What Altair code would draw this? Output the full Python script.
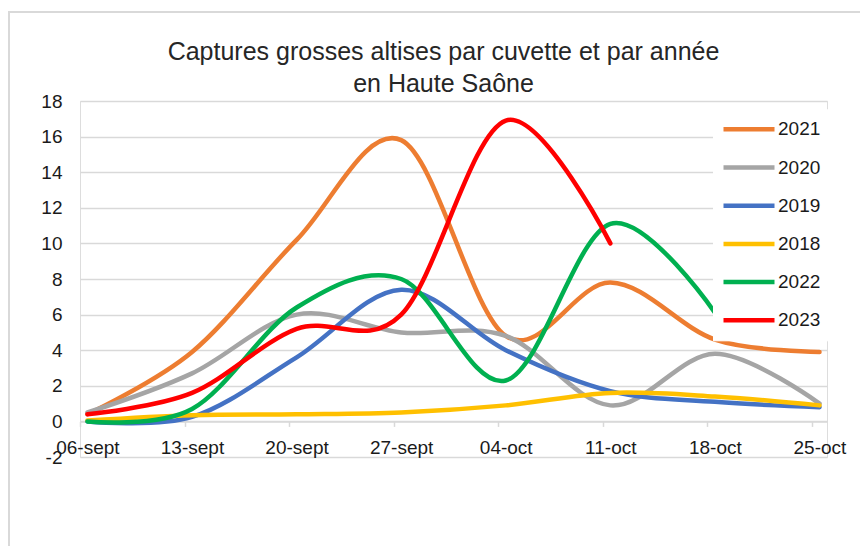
import json
import altair as alt
import pandas as pd

# --- data ---
dates = ["06-sept", "13-sept", "20-sept", "27-sept", "04-oct", "11-oct", "18-oct", "25-oct"]
days = [0, 7, 14, 21, 28, 35, 42, 49]          # days since 6 September
years = ["2021", "2020", "2019", "2018", "2022", "2023"]
colors = ["#ED7D31", "#A5A5A5", "#4472C4", "#FFC000", "#00B050", "#FF0000"]

v2021 = [0.4, 3.9, 10.2, 15.8, 4.8, 7.8, 4.6, 3.9]
v2020 = [0.5, 2.7, 6.0, 5.0, 4.8, 0.9, 3.8, 1.0]
v2019 = [0.0, 0.25, 3.6, 7.4, 4.0, 1.7, 1.1, 0.8]
v2018 = [0.05, 0.35, 0.4, 0.5, 0.9, 1.6, 1.4, 0.9]
v2022 = [0.0, 0.7, 6.4, 8.0, 2.3, 11.1, 6.1, None]
v2023 = [0.4, 1.6, 5.2, 6.0, 16.9, 10.0, None, None]

series = [v2021, v2020, v2019, v2018, v2022, v2023]

rows = []
for order, (yr, vals) in enumerate(zip(years, series)):
    for d, lab, v in zip(days, dates, vals):
        if v is not None:
            rows.append({"annee": yr, "jour": d, "date": lab, "captures": v, "ordre": order})
df = pd.DataFrame(rows)

label_expr = json.dumps(dates) + "[round((datum.value + 0.5) / 7)]"
FONT = "Liberation Sans"

lines = alt.Chart(df).mark_line(
    interpolate="cardinal", strokeCap="round", strokeJoin="round"
).encode(
    x=alt.X(
        "jour:Q",
        scale=alt.Scale(domain=[-0.5, 49.5], nice=False, zero=False),
        axis=alt.Axis(
            title=None,
            values=[d - 0.5 for d in days],
            labelExpr=label_expr,
            grid=False,
            offset=-35.6,
            domainColor="#d9d9d9",
            domainWidth=1.5,
            ticks=True,
            tickColor="#d9d9d9",
            tickWidth=1.5,
            tickSize=5,
            labelOffset=7.4,
            labelPadding=12,
            labelFont=FONT,
            labelFontSize=19,
            labelColor="#1a1a1a",
            labelOverlap=False,
            labelBound=False,
            labelFlush=False,
        ),
    ),
    y=alt.Y(
        "captures:Q",
        scale=alt.Scale(domain=[-2, 18], nice=False, zero=False),
        axis=alt.Axis(
            title=None,
            values=list(range(-2, 19, 2)),
            labelExpr="'' + datum.value",
            domain=False,
            ticks=False,
            tickSize=0,
            grid=True,
            gridColor="#d9d9d9",
            gridWidth=1.5,
            labelPadding=18,
            labelFont=FONT,
            labelFontSize=19,
            labelColor="#1a1a1a",
        ),
    ),
    color=alt.Color(
        "annee:N",
        scale=alt.Scale(domain=years, range=colors),
        legend=alt.Legend(
            title=None,
            orient="none",
            legendX=633,
            legendY=8.3,
            direction="vertical",
            symbolType="stroke",
            symbolSize=2601,
            symbolStrokeWidth=5.5,
            symbolOffset=0,
            labelOffset=1,
            labelFont=FONT,
            labelFontSize=19,
            labelColor="#1a1a1a",
            clipHeight=24,
            rowPadding=14.2,
            padding=8,
            fillColor="white",
            strokeColor="white",
        ),
    ),
    strokeWidth=alt.StrokeWidth(
        "annee:N",
        scale=alt.Scale(domain=years, range=[4.5, 4.5, 4.5, 4.5, 4.5, 6.5]),
        legend=None,
    ),
    order=alt.Order("ordre:Q"),
    detail="annee:N",
)

border = alt.Chart(pd.DataFrame({"k": [0]})).mark_rect(
    filled=False, stroke="#d9d9d9", strokeWidth=2
).encode(
    x=alt.value(-71), x2=alt.value(820), y=alt.value(-89), y2=alt.value(480)
)

chart = alt.layer(border, lines).properties(
    width=747,
    height=356,
    title=alt.Title(
        text=["Captures grosses altises par cuvette et par année", "en Haute Saône"],
        font=FONT,
        fontSize=25,
        fontWeight="normal",
        color="#262626",
        anchor="middle",
        lineHeight=32.4,
        dx=-10,
        dy=86,
        offset=0,
    ),
    autosize=alt.AutoSizeParams(type="none"),
    padding={"left": 72, "top": 93, "right": 33, "bottom": 89},
).configure_view(stroke=None).configure(background="white")

chart.save("out.html", embed_options={"renderer": "svg", "actions": False})
